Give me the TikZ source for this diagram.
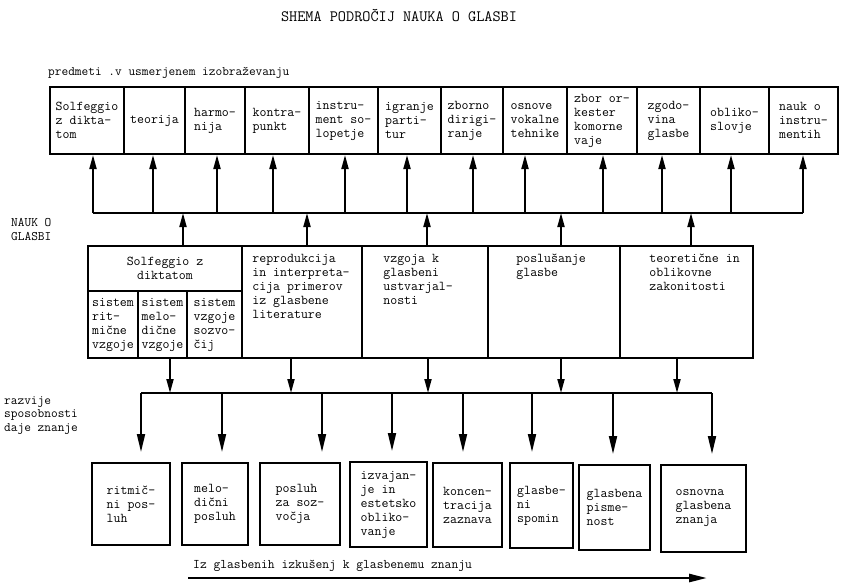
\documentclass[tikz,border=0pt]{standalone}
\usepackage{fontspec}
\newfontfamily\tw{Latin Modern Mono}
\usetikzlibrary{arrows.meta}
\begin{document}
\begin{tikzpicture}[x=1pt,y=-1pt,
  every node/.style={inner sep=0pt, font=\tw\fontsize{13.5}{14}\selectfont},
  box/.style={draw, line width=2pt, align=left},
  cell/.style={draw, line width=1.7pt, align=left},
  txt/.style={align=left, anchor=north west},
  ln/.style={line width=1.9pt},
  arrup/.style={ln, -{Triangle[length=14pt,width=7pt]}},
  arrdn/.style={ln, -{Triangle[length=14pt,width=7pt]}},
  arrlong/.style={ln, -{Triangle[length=18pt,width=8pt]}},
  lbl/.style={align=left, anchor=west, font=\tw\fontsize{13}{13.5}\selectfont}
]
\fill[white] (0,0) rectangle (842,582);
\useasboundingbox (0,0) rectangle (842,582);

% title and captions
\node[font=\tw\fontsize{15.8}{17}\selectfont] (title) at (399,15) {SHEMA PODROČIJ NAUKA O GLASBI};
\node[anchor=base west, font=\tw\fontsize{13}{14}\selectfont] (cap1) at (48,75.5) {predmeti .v usmerjenem izobraževanju};
\node[lbl] (lab1) at (11,229.5) {NAUK O\\GLASBI};
\node[lbl] (lab2) at (4,415.5) {razvije\\sposobnosti\\daje znanje};
\node[anchor=base west, font=\tw\fontsize{13.2}{14}\selectfont] (cap2) at (193,568.5) {Iz glasbenih izkušenj k glasbenemu znanju};

% top row
\node[box, minimum width=74pt, minimum height=67pt] (t1) at (87,120.5) {Solfeggio\\z dikta-\\tom};
\node[box, minimum width=61pt, minimum height=67pt] (t2) at (154.5,120.5) {teorija};
\node[box, minimum width=60pt, minimum height=67pt] (t3) at (215,120.5) {harmo-\\nija};
\node[box, minimum width=64pt, minimum height=67pt] (t4) at (277,120.5) {kontra-\\punkt};
\node[box, minimum width=69pt, minimum height=67pt] (t5) at (343.5,120.5) {instru-\\ment so-\\lopetje};
\node[box, minimum width=63pt, minimum height=67pt] (t6) at (409.5,120.5) {igranje\\parti-\\tur};
\node[box, minimum width=62pt, minimum height=67pt] (t7) at (472,120.5) {zborno\\dirigi-\\ranje};
\node[box, minimum width=64pt, minimum height=67pt] (t8) at (535,120.5) {osnove\\vokalne\\tehnike};
\node[box, minimum width=70pt, minimum height=67pt] (t9) at (602,120.5) {zbor or-\\kester\\komorne\\vaje};
\node[box, minimum width=63pt, minimum height=67pt] (t10) at (668.5,120.5) {zgodo-\\vina\\glasbe};
\node[box, minimum width=69pt, minimum height=67pt] (t11) at (734.5,120.5) {obliko-\\slovje};
\node[box, minimum width=69pt, minimum height=67pt] (t12) at (803.5,120.5) {nauk o\\instru-\\mentih};

% upper bus
\foreach \n/\x in {1/93,2/153,3/217,4/273,5/345,6/407,7/473,8/525,9/603,10/662,11/731,12/803}
  \coordinate (u\n) at (\x,213);
\draw[ln] (u1) -- (u12);
\foreach \n in {1,...,12}
  \draw[arrup] (u\n) -- (u\n |- t\n.south);

% middle block
\node[cell, align=center, minimum width=154pt, minimum height=45pt] (m1) at (165,268.5) {Solfeggio z\\diktatom};
\node[cell, minimum width=50pt, minimum height=67pt] (s1) at (113,324.5) {sistem\\rit-\\mične\\vzgoje};
\node[cell, minimum width=49pt, minimum height=67pt] (s2) at (162.5,324.5) {sistem\\melo-\\dične\\vzgoje};
\node[cell, minimum width=55pt, minimum height=67pt] (s3) at (214.5,324.5) {sistem\\vzgoje\\sozvo-\\čij};
\node[cell, minimum width=120pt, minimum height=112pt] (m2) at (302,302) {};
\node[cell, minimum width=126pt, minimum height=112pt] (m3) at (425,302) {};
\node[cell, minimum width=132pt, minimum height=112pt] (m4) at (554,302) {};
\node[cell, minimum width=133pt, minimum height=112pt] (m5) at (686.5,302) {};
\node[txt] (m2t) at ([xshift=11pt,yshift=-9pt]m2.north west) {reprodukcija\\in interpreta-\\cija primerov\\iz glasbene\\literature};
\node[txt] (m3t) at ([xshift=22pt,yshift=-9pt]m3.north west) {vzgoja k\\glasbeni\\ustvarjal-\\nosti};
\node[txt] (m4t) at ([xshift=29pt,yshift=-9pt]m4.north west) {poslušanje\\glasbe};
\node[txt] (m5t) at ([xshift=30pt,yshift=-9pt]m5.north west) {teoretične in\\oblikovne\\zakonitosti};
\node[draw, line width=2.2pt, minimum width=665pt, minimum height=112pt] (blk) at (420.5,302) {};

% arrows from block up to upper bus
\foreach \n/\x in {1/183,2/307,3/427,4/561,5/691}
  \coordinate (v\n) at (\x,213);
\foreach \n in {1,...,5}
  \draw[arrup] (v\n |- blk.north) -- (v\n);

% arrows from block down to lower bus
\foreach \n/\x in {1/170,2/291,3/428,4/561,5/677}
  \coordinate (w\n) at (\x,393);
\foreach \n in {1,...,5}
  \draw[arrdn] (w\n |- blk.south) -- (w\n);

% bottom row
\node[box, minimum width=78pt, minimum height=82pt] (b1) at (131,504) {ritmič-\\ni pos-\\luh};
\node[box, minimum width=66pt, minimum height=82pt] (b2) at (215,504) {melo-\\dični\\posluh};
\node[box, minimum width=80pt, minimum height=82pt] (b3) at (300,504) {posluh\\za soz-\\vočja};
\node[box, minimum width=77pt, minimum height=85pt] (b4) at (388.5,504.5) {izvajan-\\je in\\estetsko\\obliko-\\vanje};
\node[box, minimum width=69pt, minimum height=84pt] (b5) at (467.5,505) {koncen-\\tracija\\zaznava};
\node[box, minimum width=63pt, minimum height=85pt] (b6) at (541.5,505.5) {glasbe-\\ni\\spomin};
\node[box, minimum width=71pt, minimum height=85pt] (b7) at (614.5,507.5) {glasbena\\pisme-\\nost};
\node[box, minimum width=85pt, minimum height=87pt] (b8) at (703.5,508.5) {osnovna\\glasbena\\znanja};

% lower bus
\foreach \n/\x in {1/141,2/222,3/322,4/392,5/463,6/532,7/613,8/712}
  \coordinate (d\n) at (\x,393);
\draw[ln] (d1) -- (d8);
\foreach \n in {1,...,8}
  \draw[arrlong, shorten >=10pt] (d\n) -- (d\n |- b\n.north);

% bottom arrow
\coordinate (ar1) at (188,578);
\coordinate (ar2) at (707,578);
\draw[line width=2.6pt, -{Triangle[length=18pt,width=8pt]}] (ar1) -- (ar2);
\end{tikzpicture}
\end{document}
